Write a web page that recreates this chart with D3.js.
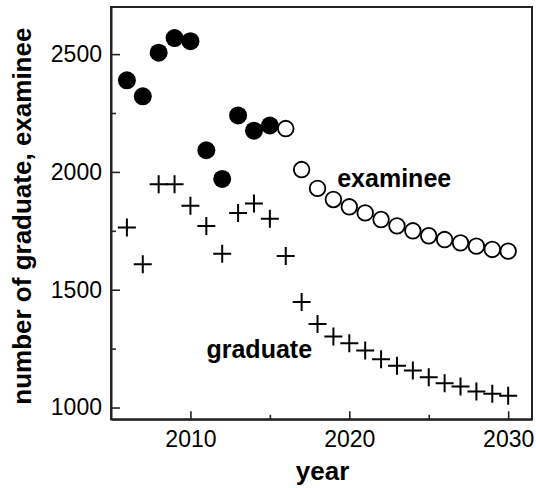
<!DOCTYPE html>
<html>
<head>
<meta charset="utf-8">
<script src="https://cdn.jsdelivr.net/npm/d3@7"></script>
<style>
  html, body { margin: 0; padding: 0; background: #fff; }
  svg { display: block; }
  text { font-family: "Liberation Sans", Arial, Helvetica, sans-serif; fill: #000; }
</style>
</head>
<body>
<svg id="chart" width="536" height="488"></svg>
<script>
// Recorded examinee counts (2006–2015)
const examineeYears = [2006, 2007, 2008, 2009, 2010, 2011, 2012, 2013, 2014, 2015];
const examineeValues = [2389, 2321, 2506, 2568, 2555, 2092, 1970, 2240, 2175, 2197];

// Projected examinee counts (2016–2030)
const projectedYears = [2016, 2017, 2018, 2019, 2020, 2021, 2022, 2023, 2024, 2025, 2026, 2027, 2028, 2029, 2030];
const projectedValues = [2184, 2010, 1930, 1883, 1852, 1826, 1798, 1771, 1750, 1729, 1713, 1699, 1685, 1671, 1664];

// Graduates (2006–2030)
const graduateYears = [2006, 2007, 2008, 2009, 2010, 2011, 2012, 2013, 2014, 2015, 2016, 2017, 2018,
                       2019, 2020, 2021, 2022, 2023, 2024, 2025, 2026, 2027, 2028, 2029, 2030];
const graduateValues = [1764, 1608, 1948, 1948, 1856, 1770, 1653, 1826, 1866, 1801, 1643, 1448, 1355,
                        1301, 1273, 1242, 1205, 1177, 1157, 1129, 1103, 1089, 1068, 1058, 1050];

// Axis ticks
const xMajorTicks = [2010, 2020, 2030];
const xMinorTicks = [2015, 2025];
const yMajorTicks = [1000, 1500, 2000, 2500];
const yMinorTicks = [1250, 1750, 2250];

// Series labels placed in data space
const seriesLabels = [
  { text: "examinee", year: 2019.24, value: 1934 },
  { text: "graduate", year: 2011.01, value: 1209 }
];

const svg = d3.select("#chart");
const plot = { left: 111, right: 532, top: 7, bottom: 419.3 };

const x = d3.scaleLinear().domain([2005, 2031.5]).range([plot.left, plot.right]);
const y = d3.scaleLinear().domain([950, 2700]).range([plot.bottom, plot.top]);

// Frame
svg.append("rect")
  .attr("x", plot.left).attr("y", plot.top)
  .attr("width", plot.right - plot.left).attr("height", plot.bottom - plot.top)
  .attr("fill", "none").attr("stroke", "#222").attr("stroke-width", 2);

// X axis (ticks point inward)
const gx = svg.append("g").attr("transform", `translate(0,${plot.bottom})`);
gx.call(d3.axisBottom(x).tickValues(xMajorTicks).tickFormat(d3.format("d"))
  .tickSizeInner(-8).tickSizeOuter(0).tickPadding(11));
svg.append("g").attr("transform", `translate(0,${plot.bottom})`)
  .call(d3.axisBottom(x).tickValues(xMinorTicks).tickFormat("")
    .tickSizeInner(-4.5).tickSizeOuter(0))
  .call(g => g.select(".domain").remove());

// Y axis (ticks point inward)
const gy = svg.append("g").attr("transform", `translate(${plot.left},0)`);
gy.call(d3.axisLeft(y).tickValues(yMajorTicks).tickFormat(d3.format("d"))
  .tickSizeInner(-9).tickSizeOuter(0).tickPadding(9));
svg.append("g").attr("transform", `translate(${plot.left},0)`)
  .call(d3.axisLeft(y).tickValues(yMinorTicks).tickFormat("")
    .tickSizeInner(-5).tickSizeOuter(0))
  .call(g => g.select(".domain").remove());

svg.selectAll(".domain").attr("stroke", "#222").attr("stroke-width", 2);
svg.selectAll(".tick line").attr("stroke", "#222").attr("stroke-width", 1.6);
svg.selectAll(".tick text")
  .attr("font-size", 23)
  .attr("font-family", "'Liberation Sans', Arial, sans-serif")
  .attr("fill", "#000");

// Axis titles
svg.append("text")
  .attr("x", (plot.left + plot.right) / 2 + 1)
  .attr("y", 480)
  .attr("text-anchor", "middle")
  .attr("font-size", 26).attr("font-weight", "bold")
  .text("year");

svg.append("text")
  .attr("transform", `translate(31,${(plot.top + plot.bottom) / 2 + 3}) rotate(-90)`)
  .attr("text-anchor", "middle")
  .attr("font-size", 26).attr("font-weight", "bold")
  .text("number of graduate, examinee");

// Graduates: plus markers
const crossHalf = 9;
svg.append("g").selectAll("path")
  .data(graduateYears.map((yr, i) => ({ yr, v: graduateValues[i] })))
  .join("path")
  .attr("transform", d => `translate(${x(d.yr)},${y(d.v)})`)
  .attr("d", `M${-crossHalf},0H${crossHalf}M0,${-crossHalf}V${crossHalf}`)
  .attr("stroke", "#000").attr("stroke-width", 2).attr("fill", "none");

// Recorded examinees: filled circles
svg.append("g").selectAll("circle")
  .data(examineeYears.map((yr, i) => ({ yr, v: examineeValues[i] })))
  .join("circle")
  .attr("cx", d => x(d.yr)).attr("cy", d => y(d.v))
  .attr("r", 9).attr("fill", "#000");

// Projected examinees: open circles
svg.append("g").selectAll("circle")
  .data(projectedYears.map((yr, i) => ({ yr, v: projectedValues[i] })))
  .join("circle")
  .attr("cx", d => x(d.yr)).attr("cy", d => y(d.v))
  .attr("r", 7.8).attr("fill", "#fff")
  .attr("stroke", "#000").attr("stroke-width", 1.8);

// Series labels
svg.append("g").selectAll("text")
  .data(seriesLabels)
  .join("text")
  .attr("x", d => x(d.year)).attr("y", d => y(d.value))
  .attr("font-size", 25).attr("font-weight", "bold")
  .text(d => d.text);
</script>
</body>
</html>
